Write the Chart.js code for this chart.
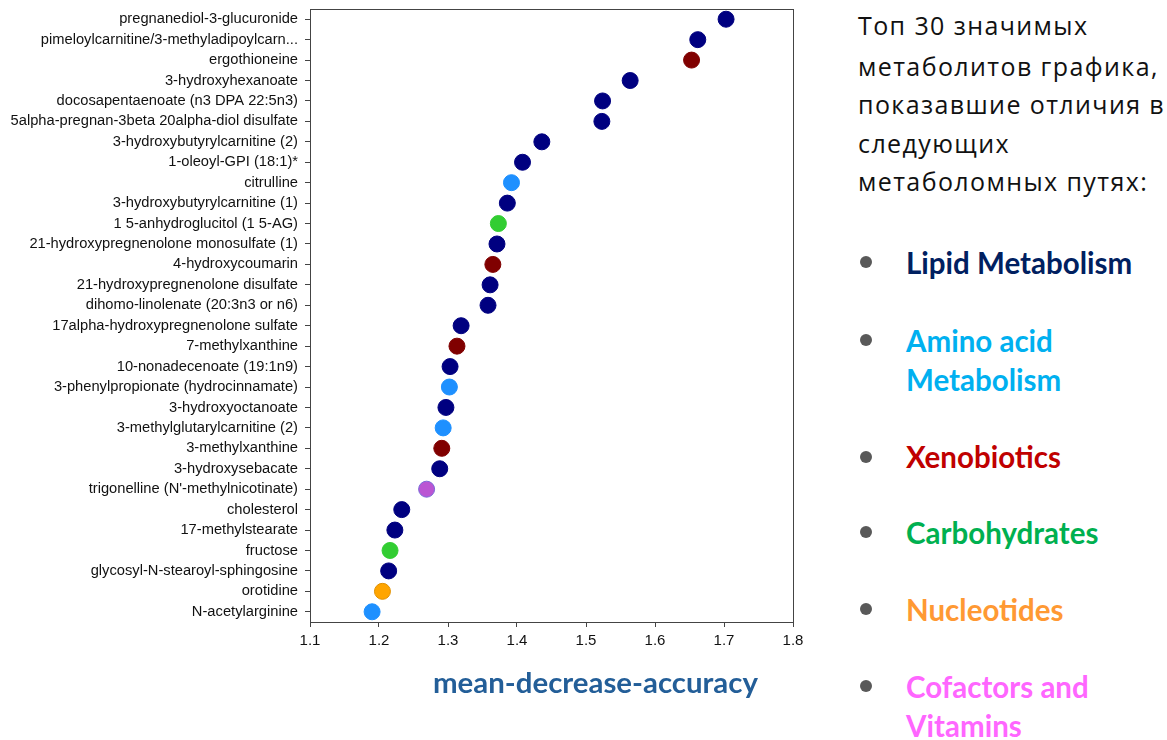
<!DOCTYPE html>
<html>
<head>
<meta charset="utf-8">
<script src="https://cdn.jsdelivr.net/npm/chart.js@4.4.1/dist/chart.umd.min.js"></script>
<style>
  html, body { margin: 0; padding: 0; background: #fff; }
  #wrap { position: relative; width: 1167px; height: 740px; overflow: hidden; }
  #chartBox { position: absolute; left: 0; top: 0; width: 840px; height: 740px; }
  .t { position: absolute; white-space: nowrap; font-family: "Open Sans", "Noto Sans", sans-serif; }
  .intro { left: 858px; font-size: 25px; letter-spacing: 1.4px; color: #111; }
  .leg { left: 906px; font-size: 29.5px; line-height: 36px; font-weight: 700; font-family: "Lato", "Open Sans", sans-serif; }
  .dot { position: absolute; left: 860px; width: 12px; height: 12px; border-radius: 50%; background: #595959; }
  #xtitle { left: 433px; top: 664px; font-size: 29.4px; line-height: 36px; font-weight: 700; color: #235e98; font-family: "Lato", "Open Sans", sans-serif; }
</style>
</head>
<body>
<div id="wrap">
  <div id="chartBox"><canvas id="c" width="840" height="740"></canvas></div>
  <div class="t" id="xtitle">mean-decrease-accuracy</div>

  <div class="t intro" style="top:8px">Топ 30 значимых</div>
  <div class="t intro" style="top:49px">метаболитов графика,</div>
  <div class="t intro" style="top:87px">показавшие отличия в</div>
  <div class="t intro" style="top:126px">следующих</div>
  <div class="t intro" style="top:164px">метаболомных путях:</div>

  <div class="dot" style="top:256px"></div>
  <div class="t leg" style="top:245px;color:#002060">Lipid Metabolism</div>
  <div class="dot" style="top:334px"></div>
  <div class="t leg" style="top:323px;color:#00b0f0">Amino acid</div>
  <div class="t leg" style="top:362px;color:#00b0f0">Metabolism</div>
  <div class="dot" style="top:451px"></div>
  <div class="t leg" style="top:439px;color:#c00000">Xenobiotics</div>
  <div class="dot" style="top:526px"></div>
  <div class="t leg" style="top:515px;color:#00b050">Carbohydrates</div>
  <div class="dot" style="top:603px"></div>
  <div class="t leg" style="top:592px;color:#ff9933">Nucleotides</div>
  <div class="dot" style="top:680px"></div>
  <div class="t leg" style="top:669px;color:#ff66ff">Cofactors and</div>
  <div class="t leg" style="top:708px;color:#ff66ff">Vitamins</div>
</div>
<script>
const metabolites = [
  "pregnanediol-3-glucuronide",
  "pimeloylcarnitine/3-methyladipoylcarn...",
  "ergothioneine",
  "3-hydroxyhexanoate",
  "docosapentaenoate (n3 DPA 22:5n3)",
  "5alpha-pregnan-3beta 20alpha-diol disulfate",
  "3-hydroxybutyrylcarnitine (2)",
  "1-oleoyl-GPI (18:1)*",
  "citrulline",
  "3-hydroxybutyrylcarnitine (1)",
  "1 5-anhydroglucitol (1 5-AG)",
  "21-hydroxypregnenolone monosulfate (1)",
  "4-hydroxycoumarin",
  "21-hydroxypregnenolone disulfate",
  "dihomo-linolenate (20:3n3 or n6)",
  "17alpha-hydroxypregnenolone sulfate",
  "7-methylxanthine",
  "10-nonadecenoate (19:1n9)",
  "3-phenylpropionate (hydrocinnamate)",
  "3-hydroxyoctanoate",
  "3-methylglutarylcarnitine (2)",
  "3-methylxanthine",
  "3-hydroxysebacate",
  "trigonelline (N'-methylnicotinate)",
  "cholesterol",
  "17-methylstearate",
  "fructose",
  "glycosyl-N-stearoyl-sphingosine",
  "orotidine",
  "N-acetylarginine"
];
const meanDecreaseAccuracy = [
  1.703, 1.662, 1.653, 1.564, 1.524, 1.523, 1.436, 1.408, 1.392, 1.386,
  1.373, 1.371, 1.365, 1.361, 1.358, 1.319, 1.313, 1.303, 1.302, 1.297,
  1.293, 1.291, 1.288, 1.269, 1.233, 1.223, 1.216, 1.214, 1.205, 1.190
];
const pathway = [
  "Lipid", "Lipid", "Xenobiotics", "Lipid", "Lipid", "Lipid", "Lipid", "Lipid", "Amino acid", "Lipid",
  "Carbohydrate", "Lipid", "Xenobiotics", "Lipid", "Lipid", "Lipid", "Xenobiotics", "Lipid", "Amino acid", "Lipid",
  "Amino acid", "Xenobiotics", "Lipid", "Cofactors", "Lipid", "Lipid", "Carbohydrate", "Lipid", "Nucleotide", "Amino acid"
];
const xTicks = [1.1, 1.2, 1.3, 1.4, 1.5, 1.6, 1.7, 1.8];

const pathwayColor = {
  "Lipid": "#000080",
  "Xenobiotics": "#800000",
  "Amino acid": "#1e90ff",
  "Carbohydrate": "#32cd32",
  "Nucleotide": "#ffa500",
  "Cofactors": "#ba55d3"
};
const pathwayBorder = {
  "Lipid": "#000080",
  "Xenobiotics": "#800000",
  "Amino acid": "#1e90ff",
  "Carbohydrate": "#32cd32",
  "Nucleotide": "#e09000",
  "Cofactors": "#7a6ad8"
};

const frame = {
  id: 'frame',
  afterDraw(chart) {
    const a = chart.chartArea, ctx = chart.ctx;
    ctx.save();
    ctx.strokeStyle = '#444';
    ctx.lineWidth = 1;
    ctx.strokeRect(Math.round(a.left) + 0.5, Math.round(a.top) + 0.5, Math.round(a.right - a.left), Math.round(a.bottom - a.top));
    ctx.restore();
  }
};

new Chart(document.getElementById('c'), {
  type: 'line',
  data: {
    labels: metabolites,
    datasets: [{
      data: meanDecreaseAccuracy,
      showLine: false,
      pointRadius: 8,
      pointHoverRadius: 8,
      pointBorderWidth: 1,
      pointBackgroundColor: pathway.map(p => pathwayColor[p]),
      pointBorderColor: pathway.map(p => pathwayBorder[p])
    }]
  },
  options: {
    indexAxis: 'y',
    responsive: false,
    animation: false,
    layout: { padding: { left: 0, right: 47, top: 8, bottom: 0 } },
    plugins: { legend: { display: false }, tooltip: { enabled: false } },
    scales: {
      x: {
        type: 'linear',
        min: 1.1, max: 1.8,
        afterBuildTicks: s => { s.ticks = xTicks.map(v => ({ value: v })); },
        afterFit: s => { s.height = 118; },
        grid: { drawOnChartArea: false, tickLength: 5, tickColor: '#444' },
        border: { color: '#444' },
        ticks: {
          color: '#111', padding: 5,
          font: { family: 'Liberation Sans, Arial, sans-serif', size: 15 },
          callback: v => v.toFixed(1)
        }
      },
      y: {
        type: 'category',
        offset: true,
        afterFit: s => { s.width = 310; s.paddingTop = 0; s.paddingBottom = 0; },
        grid: { drawOnChartArea: false, tickLength: 5, tickColor: '#444', offset: false },
        border: { color: '#444' },
        ticks: {
          color: '#111', padding: 7, autoSkip: false,
          font: { family: 'Liberation Sans, Arial, sans-serif', size: 14.7 }
        }
      }
    }
  },
  plugins: [frame]
});
</script>
</body>
</html>
